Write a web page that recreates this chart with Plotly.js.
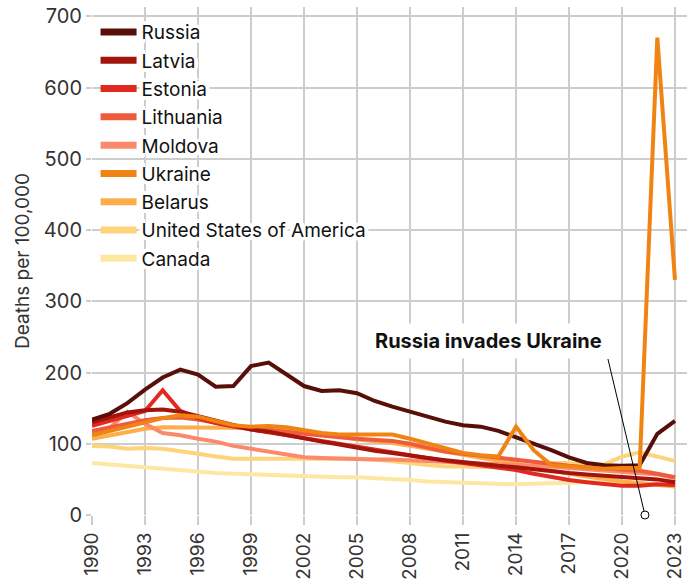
<!DOCTYPE html>
<html>
<head>
<meta charset="utf-8">
<script src="https://cdn.plot.ly/plotly-3.0.1.min.js"></script>
<style>html,body{margin:0;padding:0;background:#fff;}#chart{width:697px;height:581px;}</style>
</head>
<body>
<div id="chart"></div>
<script>
const years = [1990,1991,1992,1993,1994,1995,1996,1997,1998,1999,2000,2001,2002,2003,2004,2005,2006,2007,2008,2009,2010,2011,2012,2013,2014,2015,2016,2017,2018,2019,2020,2021,2022,2023];
const countries = ["Russia","Latvia","Estonia","Lithuania","Moldova","Ukraine","Belarus","United States of America","Canada"];
const russia    = [134,142,157,176,193,204,197,180,181,209,214,197,181,174,175,171,160,152,145,137,131,126,124,118,109,101,91,81,73,70,69,70,114,132];
const latvia    = [130,137,144,147,148,145,139,132,126,120,117,112,107,103,99,94,90,87,83,80,77,74,71,69,67,64,61,59,57,55,53,52,50,46];
const estonia   = [125,132,138,146,175,146,136,129,124,120,116,112,108,104,100,95,91,87,83,79,76,73,70,67,63,58,53,49,46,43,41,41,43,42];
const lithuania = [118,123,128,133,136,137,134,129,125,122,120,117,114,111,109,107,105,104,100,94,89,86,83,80,77,74,71,69,67,65,63,62,58,53];
const moldova   = [114,122,145,128,115,112,107,103,97,93,88,84,81,80,79,79,78,78,77,76,75,74,73,72,70,69,68,66,64,62,60,59,57,52];
const ukraine   = [112,118,124,130,136,140,138,132,126,124,125,123,119,115,113,113,113,113,107,100,93,87,84,82,124,91,70,68,66,65,66,66,670,330];
const belarus   = [107,112,117,121,123,123,123,123,123,123,122,120,117,113,110,106,104,101,97,93,88,84,81,77,72,67,62,58,54,50,47,45,43,40];
const usa       = [97,96,93,94,93,90,86,82,79,79,79,80,80,80,79,79,78,76,73,70,68,68,67,67,66,70,73,73,70,71,82,88,82,76];
const canada    = [73,71,68,66,65,63,61,59,58,57,56,55,54,54,53,53,52,51,49,47,46,45,44,43,43,44,45,46,46,46,45,44,42,40];
const seriesValues = [russia, latvia, estonia, lithuania, moldova, ukraine, belarus, usa, canada];
const colors = ["#580f0a","#a2140c","#e2291f","#f05b3e","#fb8a6b","#f08413","#fdae4b","#fdd47a","#fde8a3"];
const drawOrder = [8,7,6,4,3,2,1,0,5];
const eventLabel = "Russia invades Ukraine";
const eventX = 2021.3, eventY = 0;

const FONT = "Inter, 'Liberation Sans', Arial, sans-serif";
const traces = [];
drawOrder.forEach(i => {
  traces.push({x: years, y: seriesValues[i], type: 'scatter', mode: 'lines', name: countries[i],
    line: {color: colors[i], width: 4}, showlegend: false, hoverinfo: 'skip'});
});
countries.forEach((c, i) => {
  traces.push({x: [null], y: [null], type: 'scatter', mode: 'lines', name: c, legendgroup: 'g' + i,
    line: {color: colors[i], width: 7}, showlegend: true});
});
traces.push({x: [eventX], y: [eventY], type: 'scatter', mode: 'markers', showlegend: false, cliponaxis: false,
  marker: {symbol: 'circle', size: 8, color: '#fff', line: {color: '#000', width: 1}}, hoverinfo: 'skip'});

const halo = "2px 0 0 #fff, -2px 0 0 #fff, 0 2px 0 #fff, 0 -2px 0 #fff, 3px 3px 0 #fff, -3px -3px 0 #fff, 3px -3px 0 #fff, -3px 3px 0 #fff, 0 4px 0 #fff, 0 -4px 0 #fff, 4px 0 0 #fff, -4px 0 0 #fff";

const layout = {
  width: 697, height: 581,
  margin: {l: 92, r: 10, t: 7, b: 66},
  paper_bgcolor: '#fff', plot_bgcolor: '#fff',
  font: {family: FONT, color: '#333'},
  xaxis: {range: [1990, 2023.68], tick0: 1990, dtick: 3, tickangle: -90,
    showgrid: true, gridcolor: '#cdcdcd', gridwidth: 2, zeroline: false,
    ticks: 'outside', ticklen: 9, tickcolor: '#cdcdcd', tickwidth: 2,
    tickfont: {family: FONT, size: 19, color: '#333'}, showline: false},
  yaxis: {range: [0, 713], dtick: 100, showgrid: true, gridcolor: '#cdcdcd', gridwidth: 2,
    zeroline: false, ticks: 'outside', ticklen: 5, tickcolor: '#cdcdcd', tickwidth: 2,
    tickfont: {family: FONT, size: 20, color: '#333'},
    title: {text: 'Deaths per 100,000', font: {family: FONT, size: 19, color: '#333'}, standoff: 9}},
  legend: {x: 0.006, y: 0.988, xanchor: 'left', yanchor: 'top', bgcolor: 'rgba(0,0,0,0)',
    font: {family: FONT, size: 19, color: '#111', shadow: halo}, traceorder: 'grouped', tracegroupgap: 0.6,
    itemwidth: 36},
  annotations: [{x: eventX, y: eventY, xref: 'x', yref: 'y', text: '<b>' + eventLabel + '</b>',
    showarrow: true, arrowhead: 0, arrowwidth: 1, arrowcolor: '#000', standoff: 4,
    ax: -37, ay: -156, xanchor: 'right', yanchor: 'bottom', bgcolor: '#fff', borderpad: 5,
    font: {family: FONT, size: 20, color: '#111'}}],
  hovermode: false
};
Plotly.newPlot('chart', traces, layout, {displayModeBar: false, staticPlot: true});
</script>
</body>
</html>
